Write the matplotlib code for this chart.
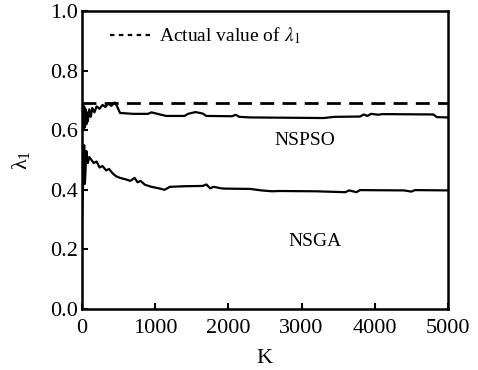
import matplotlib.pyplot as plt
from matplotlib.lines import Line2D

plt.rcParams['font.family'] = ['Liberation Serif', 'DejaVu Serif']
plt.rcParams['mathtext.fontset'] = 'stix'

actual_value = 0.693

# NSPSO estimate of lambda_1 vs iteration K
k_nspso = [0, 10, 20, 30, 40, 50, 60, 70, 80, 100, 120, 140, 170, 200, 240, 280, 320,
           360, 400, 450, 480, 520, 700, 900, 950, 1000, 1150, 1400, 1450, 1550, 1650,
           1700, 2050, 2100, 2150, 2300, 2800, 3300, 3450, 3800, 3850, 3900, 3950, 4050,
           4100, 4200, 4800, 4850, 5000]
v_nspso = [0.62, 0.69, 0.60, 0.68, 0.61, 0.67, 0.62, 0.66, 0.63, 0.67, 0.645, 0.675, 0.66,
           0.68, 0.672, 0.685, 0.678, 0.69, 0.682, 0.693, 0.68, 0.658, 0.655, 0.655, 0.66,
           0.657, 0.648, 0.648, 0.655, 0.661, 0.656, 0.648, 0.647, 0.652, 0.645, 0.643,
           0.642, 0.641, 0.645, 0.646, 0.653, 0.648, 0.655, 0.652, 0.654, 0.654, 0.653,
           0.644, 0.643]

# NSGA estimate of lambda_1 vs iteration K
k_nsga = [0, 10, 20, 30, 40, 60, 80, 100, 130, 160, 200, 240, 280, 330, 370, 420, 470,
          520, 600, 660, 720, 760, 800, 860, 950, 1050, 1130, 1200, 1400, 1650, 1700,
          1750, 1800, 1900, 1950, 2300, 2450, 2600, 2700, 3200, 3600, 3650, 3750, 3800,
          4400, 4500, 4550, 5000]
v_nsga = [0.30, 0.38, 0.45, 0.55, 0.42, 0.53, 0.49, 0.51, 0.50, 0.49, 0.495, 0.475,
          0.48, 0.465, 0.47, 0.455, 0.445, 0.44, 0.435, 0.43, 0.44, 0.425, 0.43, 0.417,
          0.41, 0.405, 0.40, 0.41, 0.412, 0.413, 0.418, 0.405, 0.41, 0.405, 0.404,
          0.403, 0.398, 0.395, 0.396, 0.395, 0.392, 0.398, 0.392, 0.399, 0.398, 0.394,
          0.399, 0.398]

fig = plt.figure(figsize=(4.78, 3.70), dpi=100)
ax = fig.add_axes([0.1715, 0.165, 0.7655, 0.805])

ax.plot(k_nspso, v_nspso, color='black', lw=1.6)
ax.plot(k_nsga, v_nsga, color='black', lw=1.6)
ax.axhline(actual_value, color='black', lw=2, dashes=(5, 3))

ax.text(3050, 0.566, 'NSPSO', ha='center', va='center', fontsize=14)
ax.text(3180, 0.226, 'NSGA', ha='center', va='center', fontsize=14)

handle = Line2D([], [], color='black', lw=1.6, dashes=(2, 2))
ax.legend([handle], [r'Actual value of $\lambda_1$'], loc='upper left',
          bbox_to_anchor=(0.03, 1.01), frameon=False, fontsize=14,
          handlelength=2.2, handletextpad=0.3)

ax.set_xlim(0, 5000)
ax.set_ylim(0, 1.0)
ax.set_xticks([0, 1000, 2000, 3000, 4000, 5000])
ax.set_yticks([0.0, 0.2, 0.4, 0.6, 0.8, 1.0])
ax.set_yticklabels(['0.0', '0.2', '0.4', '0.6', '0.8', '1.0'])
ax.tick_params(direction='in', length=4, width=1.5, labelsize=16, pad=3)
ax.tick_params(axis='x', pad=7)
for s in ax.spines.values():
    s.set_linewidth(1.8)

ax.set_xlabel('K', fontsize=16, labelpad=8)
ax.set_ylabel(r'$\mathregular{\lambda_1}$', fontsize=16, labelpad=13)

fig.savefig('out.png', dpi=100)
